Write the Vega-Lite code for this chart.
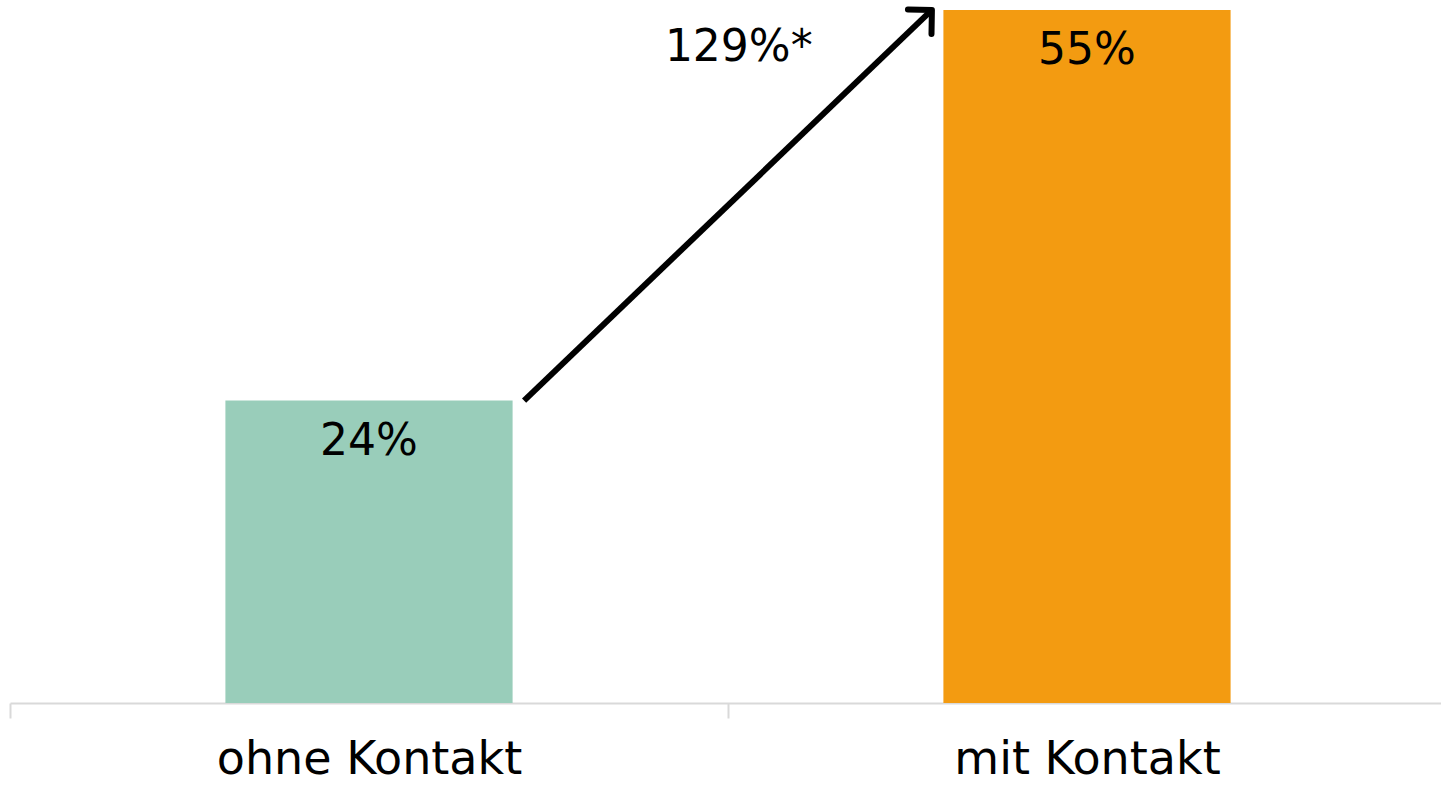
{
  "$schema": "https://vega.github.io/schema/vega-lite/v6.json",
  "width": 1431,
  "height": 703,
  "autosize": {"type": "none"},
  "padding": {"left": 10, "top": 0, "right": 0, "bottom": 83},
  "background": "white",
  "config": {"view": {"stroke": null}, "font": "DejaVu Sans"},
  "datasets": {
    "bars": [
      {"gruppe": "ohne Kontakt", "wert": 24, "label": "24%"},
      {"gruppe": "mit Kontakt", "wert": 55, "label": "55%"}
    ],
    "arrow": [
      {"x0": 0.716, "x1": 1.284, "y0": 24, "y1": 55, "text": "129%*", "tx": 1.015, "ty": 52}
    ]
  },
  "layer": [
    {
      "data": {"name": "bars"},
      "layer": [
        {
          "mark": {"type": "bar", "width": {"band": 0.4}},
          "encoding": {
            "x": {
              "field": "gruppe", "type": "nominal",
              "sort": ["ohne Kontakt", "mit Kontakt"],
              "scale": {"paddingInner": 0, "paddingOuter": 0, "range": [0, 1436]},
              "axis": {
                "title": null, "labelAngle": 0, "labelLimit": 600,
                "domainColor": "#d9d9d9", "domainWidth": 2,
                "tickColor": "#d9d9d9", "tickWidth": 2, "tickSize": 15,
                "tickBand": "extent",
                "labelFontSize": 46, "labelColor": "#000000", "labelPadding": 19,
                "labelFont": "DejaVu Sans"
              }
            },
            "y": {"field": "wert", "type": "quantitative", "scale": {"domain": [0, 55.79], "nice": false, "zero": true}, "axis": null},
            "color": {
              "field": "gruppe", "type": "nominal",
              "scale": {"domain": ["ohne Kontakt", "mit Kontakt"], "range": ["#99CDBA", "#F39B11"]},
              "legend": null
            }
          }
        },
        {
          "mark": {"type": "text", "baseline": "middle", "align": "center", "dy": 41, "fontSize": 44, "color": "#000000"},
          "encoding": {
            "x": {"field": "gruppe", "type": "nominal", "sort": ["ohne Kontakt", "mit Kontakt"]},
            "y": {"field": "wert", "type": "quantitative"},
            "text": {"field": "label"}
          }
        }
      ]
    },
    {
      "data": {"name": "arrow"},
      "layer": [
        {
          "mark": {"type": "rule", "color": "#000000", "strokeWidth": 6},
          "encoding": {
            "x": {"field": "x0", "type": "quantitative", "scale": {"domain": [0, 2], "range": [0, 1436], "nice": false, "zero": false}, "axis": null},
            "x2": {"field": "x1"},
            "y": {"field": "y0", "type": "quantitative"},
            "y2": {"field": "y1"}
          }
        },
        {
          "mark": {"type": "point", "shape": "M-1,-1L0,0L-1,1", "filled": false, "color": "#000000", "strokeWidth": 6, "strokeCap": "round", "strokeJoin": "round", "size": 1150, "angle": 316, "opacity": 1},
          "encoding": {
            "x": {"field": "x1", "type": "quantitative"},
            "y": {"field": "y1", "type": "quantitative"}
          }
        },
        {
          "mark": {"type": "text", "baseline": "middle", "align": "center", "fontSize": 44, "color": "#000000"},
          "encoding": {
            "x": {"field": "tx", "type": "quantitative"},
            "y": {"field": "ty", "type": "quantitative"},
            "text": {"field": "text"}
          }
        }
      ]
    }
  ],
  "resolve": {"scale": {"x": "independent"}}
}
